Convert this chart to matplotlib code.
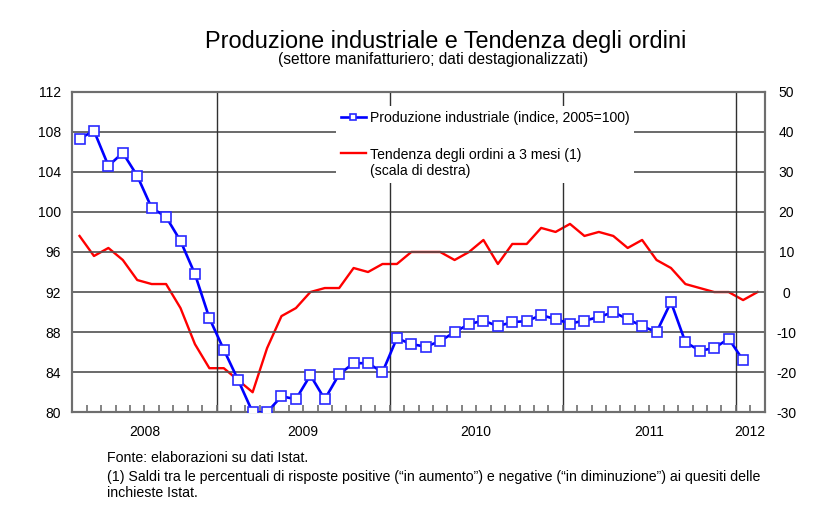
import matplotlib
matplotlib.use('Agg')
import numpy as np
import matplotlib.pyplot as plt
import matplotlib.transforms as mtransforms

plt.rcParams['font.family'] = ['Liberation Sans', 'DejaVu Sans']
plt.rcParams['axes.unicode_minus'] = False

# monthly data, March 2008 - February 2012
years = ['2008', '2009', '2010', '2011', '2012']
months_in_year = [10, 12, 12, 12, 2]

produzione = [107.3, 108.1, 104.6, 105.9, 103.6, 100.4, 99.5, 97.1, 93.8, 89.4,
              86.25, 83.2, 80.0, 80.0, 81.6, 81.3, 83.7, 81.3, 83.8, 84.9, 84.9, 84.0,
              87.4, 86.8, 86.55, 87.1, 88.0, 88.8, 89.15, 88.6, 89.0, 89.1, 89.7, 89.3,
              88.85, 89.15, 89.5, 90.0, 89.3, 88.6, 88.0, 91.0, 87.0, 86.15, 86.4, 87.35,
              85.2]
ordini = [14, 9, 11, 8, 3, 2, 2, -4, -13, -19,
          -19, -22, -25, -14, -6, -4, 0, 1, 1, 6, 5, 7,
          7, 10, 10, 10, 8, 10, 13, 7, 12, 12, 16, 15,
          17, 14, 15, 14, 11, 13, 8, 6, 2, 1, 0, 0,
          -2, 0]

n = sum(months_in_year)
x_prod = np.arange(len(produzione)) + 0.5
x_ord = np.arange(len(ordini)) + 0.5
bounds = np.cumsum([0] + months_in_year)

fig = plt.figure(figsize=(8.4, 5.26), dpi=100)
ax = fig.add_axes([0.0861, 0.2162, 0.8243, 0.6095])
ax2 = ax.twinx()
ax.set_zorder(ax2.get_zorder() + 1)
ax.patch.set_visible(False)

l2, = ax2.plot(x_ord, ordini, color='#ff0000', lw=1.7,
               label='Tendenza degli ordini a 3 mesi (1)\n(scala di destra)')
l1, = ax.plot(x_prod, produzione, color='#0000ff', lw=1.9, marker='s', ms=7,
              mfc='white', mec='#2a2aff', mew=1.2, zorder=5,
              label='Produzione industriale (indice, 2005=100)')

ax.set_xlim(0, n)
ax.set_ylim(80, 112)
ax.set_yticks(np.arange(80, 113, 4))
ax2.set_ylim(-30, 50)
ax2.set_yticks(np.arange(-30, 51, 10))

gray = '#6e6e6e'
for a in (ax, ax2):
    for s in a.spines.values():
        s.set_color(gray)
        s.set_linewidth(1.5)
    a.tick_params(axis='y', length=0, labelsize=10)
ax.tick_params(axis='y', pad=8)
ax2.tick_params(axis='y', pad=15.5)
for t in ax2.get_yticklabels():
    t.set_ha('center')

# horizontal grid (left scale)
for v in np.arange(84, 112, 4):
    ax.axhline(v, color='#505050', lw=1.2, zorder=1)
# year boundaries
for b in bounds[1:-1]:
    ax.axvline(b, color='#303030', lw=1.0, zorder=1)

# month ticks
ax.set_xticks(np.arange(1, n))
ax.set_xticklabels([])
ax.tick_params(axis='x', direction='in', length=5, width=1.2, color=gray)
july = [b + 6 for b in bounds[1:-1]] + [4]
ax.set_xticks(july, minor=True)
ax.tick_params(axis='x', which='minor', direction='in', length=8, width=1.2, color=gray)
ax.set_xlim(0, n)

trans = mtransforms.blended_transform_factory(ax.transData, ax.transAxes)
for i, y in enumerate(years):
    ax.text((bounds[i] + bounds[i + 1]) / 2, -0.06, y, transform=trans,
            ha='center', va='center', fontsize=10)

leg = ax.legend(handles=[l1, l2], loc='upper left', bbox_to_anchor=(0.381, 0.955),
                borderaxespad=0, fontsize=10.1, frameon=True, fancybox=False,
                framealpha=1, edgecolor='none', handlelength=1.75, handletextpad=0.3,
                labelspacing=1.62, borderpad=0.35, markerscale=0.65, handleheight=1.0)
leg.set_zorder(10)
# handle of the two-line entry sits on the first line
rows = leg._legend_handle_box.get_children()[0].get_children()
rows[1].align = 'top'

fig.text(0.531, 0.922, 'Produzione industriale e Tendenza degli ordini',
         ha='center', va='center', fontsize=16.9)
fig.text(0.516, 0.886, '(settore manifatturiero; dati destagionalizzati)',
         ha='center', va='center', fontsize=11.2)

fig.text(0.127, 0.129, 'Fonte: elaborazioni su dati Istat.', ha='left', va='center', fontsize=10.2)
fig.text(0.127, 0.093, '(1) Saldi tra le percentuali di risposte positive (\u201cin aumento\u201d) '
         'e negative (\u201cin diminuzione\u201d) ai quesiti delle', ha='left', va='center', fontsize=10.2)
fig.text(0.127, 0.062, 'inchieste Istat.', ha='left', va='center', fontsize=10.2)

fig.savefig('out.png', dpi=100)
